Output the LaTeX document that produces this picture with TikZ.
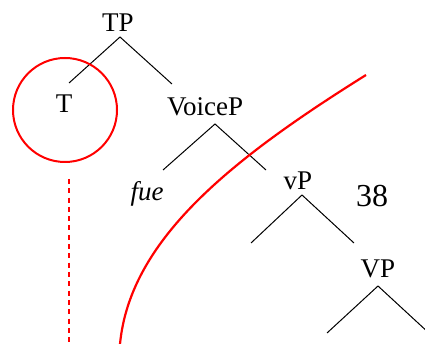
\documentclass[tikz,border=0pt]{standalone}
\usepackage{fontspec}
\setmainfont{Liberation Serif}
\begin{document}
\begin{tikzpicture}[x=1pt,y=-1pt,
  lab/.style={inner sep=0pt,anchor=base,font=\fontsize{27}{30}\selectfont},
  branch/.style={line width=1pt,black},
  redline/.style={line width=2.2pt,red}]
\useasboundingbox (0,0) rectangle (425,344);
% labels
\node[lab] (TP) at (118,32) {TP};
\node[lab] (T) at (64,113) {T};
\node[lab,anchor=base west] (VoiceP) at (167,116) {VoiceP};
\node[lab] (fue) at (147,201) {\itshape fue};
\node[lab] (vP) at (298,190) {vP};
\node[lab,font=\fontsize{32}{34}\selectfont] (num) at (372,207) {38};
\node[lab] (VP) at (378,277) {VP};
% branch points
\coordinate (tpA) at (120,37);
\coordinate (tpL) at (69,83);
\coordinate (tpR) at (172,84);
\coordinate (vcA) at (215,124);
\coordinate (vcL) at (163,170);
\coordinate (vcR) at (266,170);
\coordinate (vpA) at (302,195);
\coordinate (vpL) at (251,243);
\coordinate (vpR) at (354,243);
\coordinate (VPA) at (378,286);
\coordinate (VPL) at (327,333);
\coordinate (VPR) at (430,334);
\draw[branch] (tpL) -- (tpA) -- (tpR);
\draw[branch] (vcL) -- (vcA) -- (vcR);
\draw[branch] (vpL) -- (vpA) -- (vpR);
\draw[branch] (VPL) -- (VPA) -- (VPR);
% red annotations
\node[draw=red,line width=2pt,circle,minimum size=104pt,inner sep=0pt] (circ) at (65,110) {};
\coordinate (dTop) at (69,179);
\coordinate (dBot) at (69,344);
\draw[red,line width=1.3pt,dash pattern=on 5pt off 4.3pt] (dTop) -- (dBot);
\coordinate (cTop) at (366,75);
\coordinate (cBot) at (120,344);
\draw[redline] (cTop) .. controls (230,160) and (130,240) .. (cBot);
\end{tikzpicture}
\end{document}
